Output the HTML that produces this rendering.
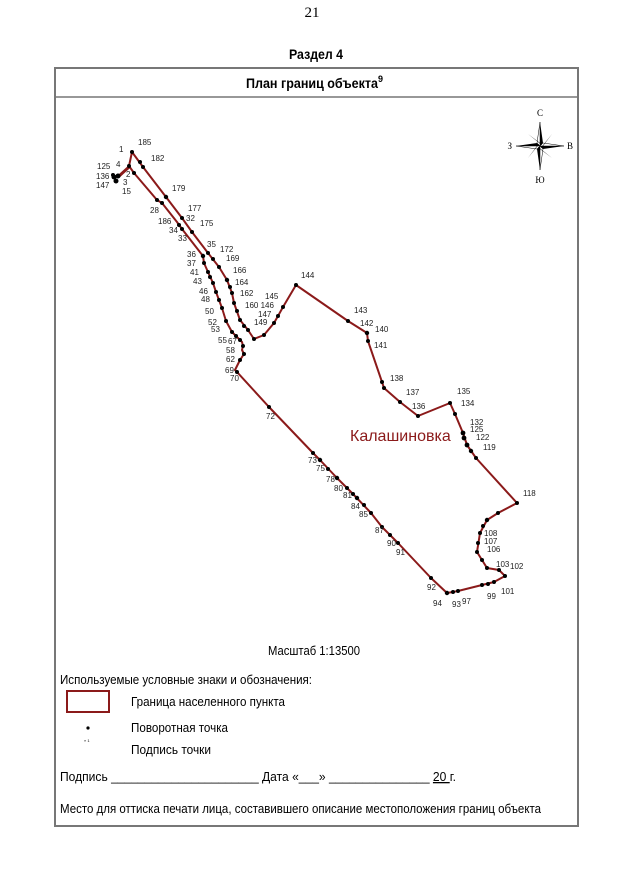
<!DOCTYPE html>
<html><head><meta charset="utf-8"><style>
body{margin:0;width:624px;height:883px;background:#fff;overflow:hidden}
svg{display:block}
.l{font-family:"Liberation Sans",sans-serif;font-size:8px;fill:#222}
.t{font-family:"Liberation Sans",sans-serif;fill:#000}
</style></head><body>
<svg width="624" height="883" viewBox="0 0 624 883">
<text x="312" y="17" text-anchor="middle" font-family="Liberation Serif,serif" font-size="15">21</text>
<text x="289" y="59" class="t" font-size="14" font-weight="bold" textLength="54" lengthAdjust="spacingAndGlyphs">Раздел 4</text>
<rect x="55" y="68" width="523" height="758" fill="none" stroke="#777" stroke-width="2"/>
<line x1="55" y1="97" x2="578" y2="97" stroke="#777" stroke-width="1.5"/>
<text x="246" y="88" class="t" font-size="14" font-weight="bold"><tspan textLength="132" lengthAdjust="spacingAndGlyphs">План границ объекта</tspan><tspan font-size="9" dy="-6">9</tspan></text>
<!-- compass -->
<g transform="translate(540,146)">
<polygon points="0,-24 3,-3 0,0" fill="#000"/><polygon points="0,-24 -3,-3 0,0" fill="#fff" stroke="#000" stroke-width=".5"/>
<polygon points="0,24 -3,3 0,0" fill="#000"/><polygon points="0,24 3,3 0,0" fill="#fff" stroke="#000" stroke-width=".5"/>
<polygon points="-24,0 -3,-3 0,0" fill="#000"/><polygon points="-24,0 -3,3 0,0" fill="#fff" stroke="#000" stroke-width=".5"/>
<polygon points="24,0 3,3 0,0" fill="#000"/><polygon points="24,0 3,-3 0,0" fill="#fff" stroke="#000" stroke-width=".5"/>
<polygon points="-12,-12 0,-3 3,0" fill="#000"/><polygon points="12,-12 3,0 0,3" fill="#000"/>
<polygon points="12,12 0,3 -3,0" fill="#000"/><polygon points="-12,12 -3,0 0,-3" fill="#000"/>
<text x="0" y="-30" text-anchor="middle" font-family="Liberation Serif,serif" font-size="9">С</text>
<text x="0" y="37" text-anchor="middle" font-family="Liberation Serif,serif" font-size="9">Ю</text>
<text x="-28" y="3" text-anchor="end" font-family="Liberation Serif,serif" font-size="9">З</text>
<text x="27" y="3" font-family="Liberation Serif,serif" font-size="9">В</text>
</g>
<!-- boundary -->
<g fill="none" stroke="#8b1a1a" stroke-width="2" stroke-linejoin="round">
<polyline points="132,152 143,167 166,197 182,218 192,232 208,253 219,267 227,280 232,293 234,303 240,320 248,330 254,339 264,335 274,323 278,316 283,307 296,285 348,321 367,333 368,341 382,382 384,388 400,402 418,416 450,403 455,414 463,433 467,445 476,458 517,503 498,513 487,520 480,533 477,552 482,560 487,568 499,570 505,576 494,582 482,585 458,591 447,593 431,578 398,543 382,527 371,513 353,494 337,478 320,460 313,453 269,407 237,372 235,370 240,360 244,354 242,350 243,346 242,342 232,332 226,321 222,308 216,292 213,283 208,272 204,263 203,256 182,229 177,222 162,203 157,200 134,173 129,166 132,152"/>
<line x1="129" y1="167" x2="118" y2="177" stroke-width="3"/>
</g>
<g fill="#000">
<circle cx="132" cy="152" r="2"/><circle cx="140" cy="162" r="2"/><circle cx="143" cy="167" r="2"/><circle cx="166" cy="197" r="2.2"/><circle cx="182" cy="218" r="2"/><circle cx="192" cy="232" r="2"/><circle cx="208" cy="253" r="2"/><circle cx="213" cy="259" r="2"/><circle cx="219" cy="267" r="2"/><circle cx="227" cy="280" r="2.2"/><circle cx="230" cy="287" r="2"/><circle cx="232" cy="293" r="2"/><circle cx="234" cy="303" r="2"/><circle cx="237" cy="311" r="2"/><circle cx="240" cy="320" r="2"/><circle cx="244" cy="326" r="2"/><circle cx="248" cy="330" r="2"/><circle cx="254" cy="339" r="2"/><circle cx="264" cy="335" r="2"/><circle cx="274" cy="323" r="2"/><circle cx="278" cy="316" r="2"/><circle cx="283" cy="307" r="2"/><circle cx="296" cy="285" r="2"/><circle cx="348" cy="321" r="2"/><circle cx="367" cy="333" r="2.2"/><circle cx="368" cy="341" r="2"/><circle cx="382" cy="382" r="2"/><circle cx="384" cy="388" r="2"/><circle cx="400" cy="402" r="2"/><circle cx="418" cy="416" r="2"/><circle cx="450" cy="403" r="2"/><circle cx="455" cy="414" r="2"/><circle cx="463" cy="433" r="2.4"/><circle cx="464" cy="438" r="2.4"/><circle cx="467" cy="445" r="2.4"/><circle cx="471" cy="451" r="2.2"/><circle cx="476" cy="458" r="2"/><circle cx="517" cy="503" r="2"/><circle cx="498" cy="513" r="2"/><circle cx="487" cy="520" r="2.2"/><circle cx="483" cy="526" r="2"/><circle cx="480" cy="533" r="2"/><circle cx="478" cy="543" r="2"/><circle cx="477" cy="552" r="2"/><circle cx="482" cy="560" r="2"/><circle cx="487" cy="568" r="2"/><circle cx="499" cy="570" r="2"/><circle cx="505" cy="576" r="2"/><circle cx="494" cy="582" r="2"/><circle cx="488" cy="584" r="2"/><circle cx="482" cy="585" r="2"/><circle cx="458" cy="591" r="2"/><circle cx="453" cy="592" r="2"/><circle cx="447" cy="593" r="2.2"/><circle cx="431" cy="578" r="2"/><circle cx="398" cy="543" r="2"/><circle cx="390" cy="535" r="2"/><circle cx="382" cy="527" r="2"/><circle cx="371" cy="513" r="2"/><circle cx="364" cy="505" r="2"/><circle cx="357" cy="498" r="2.2"/><circle cx="353" cy="494" r="2"/><circle cx="347" cy="488" r="2"/><circle cx="337" cy="478" r="2.2"/><circle cx="328" cy="469" r="2"/><circle cx="320" cy="460" r="2.2"/><circle cx="313" cy="453" r="2"/><circle cx="269" cy="407" r="2"/><circle cx="237" cy="372" r="2"/><circle cx="240" cy="360" r="2"/><circle cx="244" cy="354" r="2"/><circle cx="243" cy="346" r="2"/><circle cx="240" cy="340" r="2"/><circle cx="236" cy="336" r="2"/><circle cx="232" cy="332" r="2"/><circle cx="226" cy="321" r="2"/><circle cx="222" cy="308" r="2"/><circle cx="219" cy="300" r="2"/><circle cx="216" cy="292" r="2"/><circle cx="213" cy="283" r="2"/><circle cx="210" cy="277" r="2"/><circle cx="208" cy="272" r="2"/><circle cx="204" cy="263" r="2"/><circle cx="203" cy="256" r="2.2"/><circle cx="182" cy="229" r="2"/><circle cx="179" cy="225" r="2"/><circle cx="162" cy="203" r="2"/><circle cx="157" cy="200" r="2"/><circle cx="134" cy="173" r="2"/><circle cx="129" cy="166" r="2"/>
<circle cx="114" cy="177" r="2.5"/><circle cx="118" cy="176" r="2.5"/><circle cx="116" cy="181" r="2.5"/><circle cx="113" cy="175" r="2"/>
</g>
<g class="l">
<text x="138" y="145">185</text><text x="119" y="152">1</text><text x="151" y="161">182</text>
<text x="97" y="169">125</text><text x="116" y="167">4</text><text x="96" y="179">136</text><text x="126" y="177">2</text>
<text x="96" y="188">147</text><text x="123" y="185">3</text><text x="122" y="194">15</text>
<text x="172" y="191">179</text><text x="150" y="213">28</text><text x="188" y="211">177</text>
<text x="158" y="224">186</text><text x="186" y="221">32</text><text x="200" y="226">175</text>
<text x="169" y="233">34</text><text x="178" y="241">33</text>
<text x="207" y="247">35</text><text x="220" y="252">172</text><text x="226" y="261">169</text>
<text x="187" y="257">36</text><text x="187" y="266">37</text><text x="190" y="275">41</text><text x="193" y="284">43</text>
<text x="233" y="273">166</text><text x="235" y="285">164</text><text x="240" y="296">162</text>
<text x="199" y="294">46</text><text x="201" y="302">48</text>
<text x="265" y="299">145</text><text x="245" y="308">160 146</text><text x="258" y="317">147</text><text x="254" y="325">149</text>
<text x="205" y="314">50</text><text x="208" y="325">52</text><text x="211" y="332">53</text>
<text x="218" y="343">55</text><text x="228" y="344">67</text><text x="226" y="353">58</text><text x="226" y="362">62</text>
<text x="225" y="373">69</text><text x="230" y="381">70</text>
<text x="301" y="278">144</text><text x="354" y="313">143</text><text x="360" y="326">142</text><text x="375" y="332">140</text>
<text x="374" y="348">141</text><text x="390" y="381">138</text><text x="406" y="395">137</text><text x="412" y="409">136</text>
<text x="457" y="394">135</text><text x="461" y="406">134</text>
<text x="470" y="425">132</text><text x="470" y="432">125</text><text x="476" y="440">122</text><text x="483" y="450">119</text>
<text x="266" y="419">72</text>
<text x="308" y="463">73</text><text x="316" y="471">75</text><text x="326" y="482">78</text><text x="334" y="491">80</text><text x="343" y="498">81</text><text x="351" y="509">84</text><text x="359" y="517">85</text><text x="375" y="533">87</text><text x="387" y="546">90</text><text x="396" y="555">91</text>
<text x="427" y="590">92</text><text x="433" y="606">94</text><text x="452" y="607">93</text><text x="462" y="604">97</text><text x="487" y="599">99</text><text x="501" y="594">101</text>
<text x="496" y="567">103</text><text x="510" y="569">102</text>
<text x="484" y="536">108</text><text x="484" y="544">107</text><text x="487" y="552">106</text>
<text x="523" y="496">118</text>
</g>
<text x="350" y="441" font-family="Liberation Sans,sans-serif" font-size="16" fill="#8b1a1a">Калашиновка</text>
<text x="268" y="655" class="t" font-size="13" textLength="92" lengthAdjust="spacingAndGlyphs">Масштаб 1:13500</text>
<text x="60" y="684" class="t" font-size="13" textLength="252" lengthAdjust="spacingAndGlyphs">Используемые условные знаки и обозначения:</text>
<rect x="67" y="691" width="42" height="21" fill="none" stroke="#8b1a1a" stroke-width="2"/>
<text x="131" y="706" class="t" font-size="13" textLength="154" lengthAdjust="spacingAndGlyphs">Граница населенного пункта</text>
<circle cx="88" cy="728" r="1.6" fill="#000"/>
<text x="131" y="732" class="t" font-size="13" textLength="97" lengthAdjust="spacingAndGlyphs">Поворотная точка</text>
<text x="84" y="742" class="t" font-size="4">» 1</text>
<text x="131" y="754" class="t" font-size="13" textLength="80" lengthAdjust="spacingAndGlyphs">Подпись точки</text>
<text x="60" y="781" class="t" font-size="13" textLength="396" lengthAdjust="spacingAndGlyphs">Подпись ______________________ Дата «___» _______________ <tspan text-decoration="underline">20 </tspan>  г.</text>
<text x="60" y="813" class="t" font-size="13" textLength="481" lengthAdjust="spacingAndGlyphs">Место для оттиска печати лица, составившего описание местоположения границ объекта</text>
</svg>
</body></html>
